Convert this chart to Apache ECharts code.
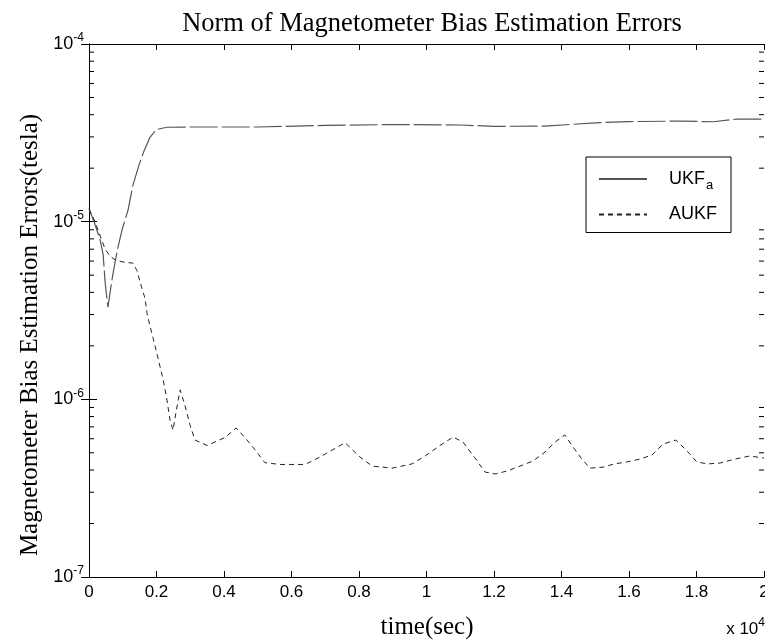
<!DOCTYPE html>
<html>
<head>
<meta charset="utf-8">
<script src="https://cdn.jsdelivr.net/npm/echarts@6/dist/echarts.min.js"></script>
<style>
html,body{margin:0;padding:0;background:#fff;}
#chart{width:765px;height:641px;}
</style>
</head>
<body>
<div id="chart"></div>
<script>
// time in units of 10^4 s
const tUKF = [0, 0.015, 0.033, 0.042, 0.048, 0.056, 0.068, 0.077, 0.086, 0.098, 0.116, 0.13, 0.148, 0.163, 0.18, 0.2, 0.23, 0.3, 0.5, 0.7, 0.9, 1.1, 1.2, 1.35, 1.5, 1.6, 1.75, 1.85, 1.92, 2.0];
const vUKF = [1.18e-5, 1.0e-5, 7.9e-6, 6.5e-6, 4.5e-6, 3.3e-6, 4.7e-6, 5.9e-6, 7.2e-6, 9.0e-6, 1.17e-5, 1.6e-5, 2.08e-5, 2.5e-5, 2.97e-5, 3.3e-5, 3.4e-5, 3.41e-5, 3.41e-5, 3.48e-5, 3.52e-5, 3.5e-5, 3.44e-5, 3.45e-5, 3.6e-5, 3.66e-5, 3.68e-5, 3.65e-5, 3.78e-5, 3.78e-5];

const tAUKF = [0, 0.018, 0.033, 0.048, 0.062, 0.077, 0.09, 0.107, 0.13, 0.142, 0.157, 0.166, 0.172, 0.18, 0.19, 0.2, 0.21, 0.22, 0.23, 0.24, 0.249, 0.258, 0.27, 0.284, 0.299, 0.314, 0.35, 0.403, 0.436, 0.462, 0.492, 0.521, 0.566, 0.64, 0.684, 0.759, 0.803, 0.839, 0.898, 0.957, 0.996, 1.04, 1.079, 1.108, 1.144, 1.173, 1.203, 1.239, 1.277, 1.316, 1.351, 1.381, 1.41, 1.434, 1.458, 1.484, 1.523, 1.556, 1.594, 1.633, 1.668, 1.701, 1.739, 1.775, 1.801, 1.834, 1.87, 1.914, 1.958, 2.0];
const vAUKF = [1.18e-5, 1.0e-5, 8.3e-6, 7.0e-6, 6.4e-6, 6.1e-6, 6.0e-6, 5.9e-6, 5.85e-6, 5.3e-6, 4.2e-6, 3.7e-6, 3.05e-6, 2.62e-6, 2.21e-6, 1.85e-6, 1.54e-6, 1.28e-6, 1.02e-6, 7.65e-7, 6.7e-7, 8.5e-7, 1.13e-6, 9.3e-7, 7.2e-7, 5.9e-7, 5.5e-7, 6.1e-7, 6.9e-7, 6.1e-7, 5.2e-7, 4.4e-7, 4.3e-7, 4.3e-7, 4.73e-7, 5.7e-7, 4.73e-7, 4.21e-7, 4.1e-7, 4.33e-7, 4.8e-7, 5.5e-7, 6.13e-7, 5.75e-7, 4.67e-7, 3.9e-7, 3.8e-7, 3.95e-7, 4.21e-7, 4.5e-7, 5.05e-7, 5.75e-7, 6.3e-7, 5.4e-7, 4.67e-7, 4.1e-7, 4.15e-7, 4.33e-7, 4.44e-7, 4.61e-7, 4.86e-7, 5.6e-7, 5.9e-7, 5.05e-7, 4.44e-7, 4.33e-7, 4.38e-7, 4.61e-7, 4.8e-7, 4.67e-7];

const xTicks = [0, 0.2, 0.4, 0.6, 0.8, 1, 1.2, 1.4, 1.6, 1.8, 2];
const yDecades = [1e-7, 1e-6, 1e-5, 1e-4];
const minorMultipliers = [2, 3, 4, 5, 6, 7, 8, 9];

const minorTicks = [];
for (let i = 0; i < yDecades.length - 1; i++) {
  for (const m of minorMultipliers) minorTicks.push([0, m * yDecades[i]]);
}

const pairs = (xs, ys) => xs.map((x, i) => [x, ys[i]]);

const chart = echarts.init(document.getElementById('chart'), null, {renderer: 'canvas'});
const axisColor = '#000';
const option = {
  animation: false,
  backgroundColor: '#fff',
  title: {
    text: 'Norm of Magnetometer Bias Estimation Errors',
    left: 427, top: 6, textAlign: 'center',
    textStyle: {fontFamily: 'Liberation Serif', fontSize: 26.5, fontWeight: 'normal', color: '#000'}
  },
  grid: {left: 89, right: 1, top: 44, bottom: 64, outerBoundsMode: 'none', containLabel: false},
  legend: {
    orient: 'vertical', left: 586, top: 157,
    data: [{name: 'UKFa', lineStyle: {type: 'solid'}}, {name: 'AUKF'}],
    backgroundColor: '#fff', borderColor: '#000', borderWidth: 1,
    padding: [13, 14, 9, 12], itemGap: 14, itemWidth: 48, itemHeight: 14,
    itemStyle: {opacity: 0},
    formatter: function (name) { return name === 'UKFa' ? '{n|UKF}{sub|a}' : '{n|AUKF}'; },
    textStyle: {
      fontFamily: 'Liberation Sans', fontSize: 18, color: '#000',
      rich: {
        n: {fontFamily: 'Liberation Sans', fontSize: 18, color: '#000', padding: [0, 0, 0, 17]},
        sub: {fontFamily: 'Liberation Sans', fontSize: 13, color: '#000', padding: [12, 0, 0, 1]}
      }
    }
  },
  xAxis: [{
    type: 'value', min: 0, max: 2, interval: 0.2, position: 'bottom',
    axisLine: {show: true, lineStyle: {color: axisColor, width: 1}},
    axisTick: {show: true, inside: true, length: 6, lineStyle: {color: axisColor}},
    axisLabel: {fontFamily: 'Liberation Sans', fontSize: 17, color: '#000', margin: 7,
      formatter: function (v) { return String(+v.toFixed(1)); }},
    splitLine: {show: false}
  }, {
    type: 'value', min: 0, max: 2, interval: 0.2, position: 'top',
    axisLine: {show: true, lineStyle: {color: axisColor, width: 1}},
    axisTick: {show: true, inside: true, length: 6, lineStyle: {color: axisColor}},
    axisLabel: {show: false}, splitLine: {show: false}
  }],
  yAxis: [{
    type: 'log', logBase: 10, min: 1e-7, max: 1e-4, position: 'left',
    axisLine: {show: true, lineStyle: {color: axisColor, width: 1}},
    axisTick: {show: true, inside: true, length: 8, lineStyle: {color: axisColor}},
    axisLabel: {margin: 5,
      formatter: function (v) { const e = Math.round(Math.log10(v)); return '{b|10}{s|' + e + '}'; },
      rich: {
        b: {fontFamily: 'Liberation Sans', fontSize: 18, color: '#000'},
        s: {fontFamily: 'Liberation Sans', fontSize: 12, color: '#000', padding: [0, 0, 12, 0]}
      }
    },
    splitLine: {show: false}, minorTick: {show: false}
  }, {
    type: 'log', logBase: 10, min: 1e-7, max: 1e-4, position: 'right',
    axisLine: {show: true, lineStyle: {color: axisColor, width: 1}},
    axisTick: {show: true, inside: true, length: 8, lineStyle: {color: axisColor}},
    axisLabel: {show: false}, splitLine: {show: false}
  }],
  graphic: [{
    type: 'text', x: 30, y: 335, rotation: Math.PI / 2,
    style: {
      text: 'Magnetometer Bias Estimation Errors(tesla)',
      font: '25px "Liberation Serif"', fill: '#000', align: 'center', verticalAlign: 'middle'
    }
  }, {
    type: 'text', x: 427, y: 627,
    style: {
      text: 'time(sec)',
      font: '25px "Liberation Serif"', fill: '#000', align: 'center', verticalAlign: 'middle'
    }
  }, {
    type: 'text', right: 0, top: 617,
    style: {
      text: '{a|x 10}{s|4}',
      rich: {
        a: {fontFamily: 'Liberation Sans', fontSize: 17, fill: '#000'},
        s: {fontFamily: 'Liberation Sans', fontSize: 12, fill: '#000', padding: [0, 0, 12, 0]}
      }
    }
  }],
  series: [{
    name: 'UKFa', type: 'line', data: pairs(tUKF, vUKF), showSymbol: false, symbol: 'none',
    lineStyle: {color: '#555', width: 1.2, type: [28, 4]}, itemStyle: {color: '#555'}
  }, {
    name: 'AUKF', type: 'line', data: pairs(tAUKF, vAUKF), showSymbol: false, symbol: 'none',
    lineStyle: {color: '#222', width: 1, type: [5, 4]}, itemStyle: {color: '#222'}
  }, {
    name: 'minor', type: 'custom', data: minorTicks, silent: true, clip: false,
    renderItem: function (params, api) {
      const v = api.value(1);
      const pl = api.coord([0, v]);
      const pr = api.coord([2, v]);
      return {type: 'group', children: [
        {type: 'line', shape: {x1: pl[0], y1: pl[1], x2: pl[0] + 5, y2: pl[1]}, style: {stroke: '#000', lineWidth: 1}},
        {type: 'line', shape: {x1: pr[0] - 5, y1: pr[1], x2: pr[0], y2: pr[1]}, style: {stroke: '#000', lineWidth: 1}}
      ]};
    }
  }]
};
chart.setOption(option);
</script>
</body>
</html>
